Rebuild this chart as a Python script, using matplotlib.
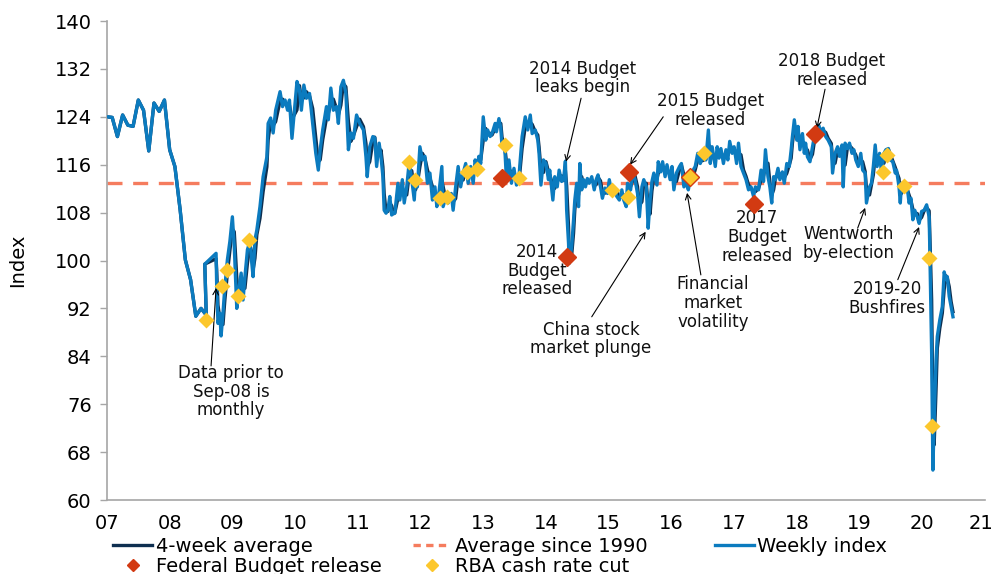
import matplotlib
matplotlib.use("Agg")
import matplotlib.pyplot as plt
import matplotlib.transforms as mtransforms
from matplotlib.lines import Line2D
import numpy as np
import pandas as pd

# monthly survey before Sep-08
monthly_dates = ["2007-01", "2007-02", "2007-03", "2007-04", "2007-05", "2007-06",
                 "2007-07", "2007-08", "2007-09", "2007-10", "2007-11", "2007-12",
                 "2008-01", "2008-02", "2008-03", "2008-04", "2008-05", "2008-06",
                 "2008-07", "2008-08"]
monthly_vals = [124.0, 123.9, 120.7, 124.3, 122.6, 122.4, 126.8, 125.1, 118.3, 126.3,
                124.9, 126.8, 118.5, 115.7, 108.5, 100.1, 96.8, 90.7, 92.0, 90.9]

# weekly index (decimal year, index)
weekly_t = [
    2008.56, 2008.74, 2008.75, 2008.77, 2008.80, 2008.82, 2008.85, 2008.88, 2008.92, 2008.96,
    2009.00, 2009.03, 2009.07, 2009.10, 2009.14, 2009.17, 2009.20, 2009.24, 2009.28, 2009.31,
    2009.33, 2009.36, 2009.39, 2009.44, 2009.49, 2009.55, 2009.57, 2009.61, 2009.65, 2009.69,
    2009.76, 2009.80, 2009.84, 2009.88, 2009.91, 2009.95, 2010.03, 2010.07, 2010.10, 2010.14,
    2010.18, 2010.23, 2010.28, 2010.33, 2010.37, 2010.40, 2010.44, 2010.50, 2010.53, 2010.57,
    2010.61, 2010.66, 2010.69, 2010.73, 2010.77, 2010.81, 2010.85, 2010.89, 2010.93, 2010.98,
    2011.03, 2011.09, 2011.13, 2011.15, 2011.19, 2011.24, 2011.27, 2011.30, 2011.34, 2011.37,
    2011.40, 2011.42, 2011.45, 2011.48, 2011.51, 2011.54, 2011.57, 2011.59, 2011.64, 2011.67,
    2011.71, 2011.74, 2011.78, 2011.82, 2011.86, 2011.90, 2011.92, 2011.95, 2011.99, 2012.03,
    2012.07, 2012.11, 2012.15, 2012.19, 2012.23, 2012.26, 2012.29, 2012.34, 2012.36, 2012.41,
    2012.44, 2012.49, 2012.52, 2012.56, 2012.60, 2012.64, 2012.68, 2012.72, 2012.76, 2012.80,
    2012.84, 2012.87, 2012.90, 2012.93, 2012.96, 2013.00, 2013.04, 2013.07, 2013.11, 2013.14,
    2013.19, 2013.21, 2013.25, 2013.28, 2013.30, 2013.34, 2013.37, 2013.41, 2013.45, 2013.49,
    2013.53, 2013.57, 2013.59, 2013.62, 2013.67, 2013.71, 2013.75, 2013.78, 2013.83, 2013.87,
    2013.89, 2013.92, 2013.96, 2014.00, 2014.04, 2014.06, 2014.11, 2014.14, 2014.18, 2014.21,
    2014.25, 2014.28, 2014.31, 2014.33, 2014.36, 2014.37, 2014.41, 2014.44, 2014.46, 2014.49,
    2014.52, 2014.54, 2014.57, 2014.60, 2014.63, 2014.66, 2014.69, 2014.73, 2014.77, 2014.80,
    2014.83, 2014.87, 2014.90, 2014.94, 2014.98, 2015.01, 2015.05, 2015.08, 2015.13, 2015.17,
    2015.21, 2015.24, 2015.28, 2015.30, 2015.35, 2015.38, 2015.42, 2015.46, 2015.49, 2015.53,
    2015.56, 2015.60, 2015.63, 2015.66, 2015.69, 2015.72, 2015.77, 2015.79, 2015.83, 2015.86,
    2015.90, 2015.93, 2015.98, 2016.01, 2016.04, 2016.08, 2016.13, 2016.16, 2016.20, 2016.24,
    2016.27, 2016.32, 2016.38, 2016.42, 2016.46, 2016.49, 2016.55, 2016.59, 2016.62, 2016.65,
    2016.70, 2016.73, 2016.76, 2016.79, 2016.83, 2016.87, 2016.90, 2016.93, 2016.97, 2017.00,
    2017.04, 2017.07, 2017.11, 2017.15, 2017.19, 2017.23, 2017.27, 2017.31, 2017.34, 2017.39,
    2017.43, 2017.47, 2017.50, 2017.54, 2017.57, 2017.60, 2017.63, 2017.66, 2017.70, 2017.73,
    2017.77, 2017.80, 2017.84, 2017.88, 2017.91, 2017.93, 2017.96, 2018.00, 2018.02, 2018.05,
    2018.09, 2018.12, 2018.14, 2018.17, 2018.21, 2018.25, 2018.28, 2018.32, 2018.35, 2018.39,
    2018.42, 2018.46, 2018.50, 2018.55, 2018.57, 2018.61, 2018.65, 2018.68, 2018.72, 2018.74,
    2018.77, 2018.81, 2018.84, 2018.88, 2018.91, 2018.94, 2018.98, 2019.02, 2019.05, 2019.09,
    2019.11, 2019.16, 2019.19, 2019.22, 2019.25, 2019.28, 2019.32, 2019.35, 2019.39, 2019.42,
    2019.46, 2019.49, 2019.53, 2019.57, 2019.59, 2019.63, 2019.65, 2019.67, 2019.72, 2019.76,
    2019.79, 2019.82, 2019.85, 2019.88, 2019.92, 2019.95, 2019.99, 2020.03, 2020.07, 2020.11,
    2020.12, 2020.15, 2020.17, 2020.19, 2020.22, 2020.24, 2020.28, 2020.32, 2020.35, 2020.38,
    2020.40, 2020.43, 2020.46, 2020.49]
weekly_v = [
    99.4, 101.2, 95.6, 89.5, 91.2, 87.4, 91.2, 95.6, 100.1, 103.2,
    107.3, 102.3, 92.0, 95.1, 97.9, 93.4, 97.3, 101.8, 103.2, 99.5,
    97.3, 103.5, 105.1, 109.0, 114.0, 117.3, 122.9, 123.8, 121.3, 125.1,
    128.2, 125.7, 126.8, 125.1, 126.8, 120.4, 129.9, 128.5, 125.1, 129.3,
    127.1, 127.9, 122.9, 117.9, 115.1, 118.5, 121.8, 125.7, 123.5, 128.8,
    125.1, 125.7, 122.9, 129.0, 130.1, 127.9, 118.5, 121.3, 120.4, 124.3,
    122.9, 121.8, 117.3, 114.0, 119.0, 120.7, 120.5, 115.7, 119.6, 117.3,
    114.0, 108.4, 107.9, 108.5, 110.7, 107.6, 108.0, 107.9, 112.9, 110.1,
    113.5, 109.6, 112.3, 116.5, 113.5, 110.1, 113.5, 112.3, 119.0, 116.8,
    117.4, 112.9, 114.6, 110.1, 112.3, 109.0, 111.0, 115.7, 109.0, 110.8,
    109.6, 111.2, 108.4, 112.3, 115.7, 112.3, 114.6, 116.2, 112.9, 115.7,
    112.9, 116.8, 115.5, 117.4, 116.2, 124.0, 120.1, 121.8, 120.7, 121.2,
    122.9, 121.5, 123.7, 122.1, 119.0, 119.5, 113.5, 116.8, 112.9, 115.4,
    112.6, 114.0, 116.8, 120.7, 124.0, 121.8, 124.3, 121.2, 121.8, 120.1,
    117.9, 112.6, 116.8, 116.2, 113.5, 115.1, 110.1, 114.0, 112.3, 115.1,
    113.2, 113.5, 116.6, 108.4, 102.9, 99.5, 102.3, 106.8, 110.1, 112.9,
    109.0, 116.2, 111.8, 113.5, 112.3, 113.7, 112.9, 114.0, 111.8, 113.5,
    114.3, 112.3, 110.4, 112.1, 111.2, 113.5, 111.2, 112.3, 110.7, 110.1,
    111.8, 110.1, 109.0, 112.9, 111.8, 114.8, 113.5, 111.2, 107.3, 112.3,
    113.5, 112.3, 105.4, 110.1, 113.2, 114.6, 112.6, 116.5, 114.8, 116.5,
    114.0, 116.0, 113.5, 115.7, 111.8, 114.6, 115.7, 116.2, 112.3, 112.9,
    111.8, 114.6, 115.7, 117.9, 116.2, 117.1, 116.8, 121.8, 116.2, 119.0,
    115.7, 119.0, 117.1, 118.7, 116.2, 118.5, 116.8, 119.9, 117.9, 119.0,
    116.2, 119.6, 115.7, 114.6, 113.5, 111.8, 112.3, 110.7, 112.3, 111.8,
    115.1, 113.2, 118.5, 114.0, 112.3, 109.6, 114.0, 113.5, 115.4, 113.5,
    114.8, 112.9, 116.2, 115.7, 118.5, 120.7, 123.5, 120.1, 122.4, 118.5,
    121.2, 117.9, 119.6, 117.3, 116.5, 119.0, 120.7, 120.1, 122.6, 121.2,
    122.1, 120.7, 120.1, 119.0, 114.6, 117.9, 119.0, 117.4, 119.3, 112.3,
    119.6, 118.7, 119.6, 117.9, 118.5, 116.8, 115.7, 117.9, 115.1, 114.6,
    109.6, 112.3, 112.9, 115.7, 119.3, 115.7, 117.9, 114.6, 117.9, 118.5,
    118.7, 116.8, 116.5, 114.6, 115.1, 112.3, 109.6, 112.9, 111.5, 112.3,
    109.6, 110.4, 106.8, 108.4, 107.3, 106.2, 108.2, 108.4, 109.3, 107.3,
    102.3, 84.5, 65.0, 73.4, 83.4, 87.3, 90.1, 92.3, 98.1, 96.8,
    97.3, 94.0, 92.3, 90.6]

avg_since_1990 = 112.9

budget_t = [2013.30, 2014.33, 2015.33, 2016.29, 2017.31, 2018.29]
budget_v = [113.7, 100.6, 114.7, 113.9, 109.4, 121.1]

cut_t = [2008.58, 2008.83, 2008.92, 2009.09, 2009.26, 2011.82, 2011.91, 2012.31, 2012.42,
         2012.74, 2012.90, 2013.34, 2013.57, 2015.06, 2015.31, 2016.29, 2016.52, 2019.37,
         2019.44, 2019.71, 2020.11, 2020.16]
cut_v = [90.1, 95.8, 98.4, 94.1, 103.4, 116.5, 113.5, 110.5, 110.6,
         114.8, 115.2, 119.3, 113.8, 111.8, 110.6, 113.9, 118.0, 114.8,
         117.6, 112.4, 100.4, 72.3]

BLUE = "#0b7bbf"
NAVY = "#0e2f50"
CORAL = "#f57c5e"
RED = "#d23a12"
YELLOW = "#fcc72c"
GREY = "#a6a6a6"

m = pd.PeriodIndex(monthly_dates, freq="M")
monthly_t = np.array(m.year + (m.month - 1) / 12.0)

all_t = np.concatenate([monthly_t, weekly_t])
all_v = np.concatenate([monthly_vals, weekly_v])
avg4 = pd.Series(weekly_v).rolling(2, min_periods=1).mean().to_numpy()
avg4_v = np.concatenate([monthly_vals, avg4])

plt.rcParams["font.family"] = "DejaVu Sans"

fig = plt.figure(figsize=(9.94, 5.74), dpi=100)
ax = fig.add_axes([0.1076, 0.1289, 0.8833, 0.8345])

ax.axhline(avg_since_1990, color=CORAL, lw=2.4, dashes=(4.5, 3.2), zorder=1)
ax.plot(all_t, avg4_v, color=NAVY, lw=2.4, zorder=2)
ax.plot(all_t, all_v, color=BLUE, lw=2.4, zorder=3)
ax.plot(budget_t, budget_v, "D", color=RED, ms=9, mec=RED, zorder=5)
ax.plot(cut_t, cut_v, "D", color=YELLOW, ms=8, mec="none", zorder=6)

ax.set_xlim(2007, 2021)
ax.set_ylim(60, 140)
ax.set_yticks(np.arange(60, 141, 8))
ax.set_xticks(range(2007, 2022))
ax.set_xticklabels(["%02d" % (y % 100) for y in range(2007, 2022)])
ax.set_xticks(range(2007, 2022, 2), minor=True)
ax.tick_params(axis="x", which="major", length=0, pad=10, labelsize=14)
ax.tick_params(axis="x", which="minor", length=5, color=GREY, width=1)
ax.tick_params(axis="y", length=5, color=GREY, width=1, labelsize=14, pad=6)
# last label sits tight against the figure edge
last = ax.get_xticklabels()[-1]
last.set_transform(last.get_transform() +
                   mtransforms.ScaledTranslation(-4 / 100, 0, fig.dpi_scale_trans))
for s in ["top", "right"]:
    ax.spines[s].set_visible(False)
for s in ["left", "bottom"]:
    ax.spines[s].set_color(GREY)
    ax.spines[s].set_linewidth(1.2)
ax.set_ylabel("Index", fontsize=14, labelpad=20)

# annotations
tkw = dict(fontsize=12, ha="center", va="center", linespacing=1.05, color="#111111")
akw = dict(arrowstyle="->", color="black", lw=0.8, shrinkA=0, shrinkB=0)

ax.text(2008.98, 78.1, "Data prior to\nSep-08 is\nmonthly", **tkw)
ax.annotate("", xy=(2008.74, 95.4), xytext=(2008.66, 82.4), arrowprops=akw)

ax.text(2014.59, 130.5, "2014 Budget\nleaks begin", **tkw)
ax.annotate("", xy=(2014.32, 116.5), xytext=(2014.56, 127.1), arrowprops=akw)

ax.text(2016.62, 125.1, "2015 Budget\nreleased", **tkw)
ax.annotate("", xy=(2015.34, 116.0), xytext=(2015.87, 124.0), arrowprops=akw)

ax.text(2018.56, 131.7, "2018 Budget\nreleased", **tkw)
ax.annotate("", xy=(2018.32, 122.1), xytext=(2018.45, 128.6), arrowprops=akw)

ax.text(2013.86, 98.3, "2014\nBudget\nreleased", **tkw)

ax.text(2014.72, 86.9, "China stock\nmarket plunge", **tkw)
ax.annotate("", xy=(2015.59, 104.8), xytext=(2014.73, 90.6), arrowprops=akw)

ax.text(2016.66, 92.9, "Financial\nmarket\nvolatility", **tkw)
ax.annotate("", xy=(2016.25, 111.3), xytext=(2016.47, 97.6), arrowprops=akw)

ax.text(2017.37, 103.9, "2017\nBudget\nreleased", **tkw)

ax.text(2018.83, 102.8, "Wentworth\nby-election", **tkw)
ax.annotate("", xy=(2019.09, 108.8), xytext=(2018.97, 105.4), arrowprops=akw)

ax.text(2019.44, 93.6, "2019-20\nBushfires", **tkw)
ax.annotate("", xy=(2019.95, 105.6), xytext=(2019.61, 96.8), arrowprops=akw)

# legend, three columns placed separately
h_avg4 = Line2D([], [], color=NAVY, lw=2.4)
h_1990 = Line2D([], [], color=CORAL, lw=2.4, dashes=(2.2, 1.6))
h_week = Line2D([], [], color=BLUE, lw=2.4)
h_bud = Line2D([], [], ls="none", marker="D", color=RED, ms=6)
h_cut = Line2D([], [], ls="none", marker="D", color=YELLOW, ms=6)

lkw = dict(loc="upper left", frameon=False, fontsize=14, borderpad=0, borderaxespad=0,
           handlelength=2.0, handletextpad=0.2, labelspacing=0.05,
           bbox_transform=fig.transFigure)
leg1 = ax.legend([h_avg4, h_bud], ["4-week average", "Federal Budget release"],
                 bbox_to_anchor=(0.114, 0.065), **lkw)
ax.add_artist(leg1)
leg2 = ax.legend([h_1990, h_cut], ["Average since 1990", "RBA cash rate cut"],
                 bbox_to_anchor=(0.415, 0.065), **lkw)
ax.add_artist(leg2)
ax.legend([h_week], ["Weekly index"], bbox_to_anchor=(0.719, 0.065), **lkw)

fig.savefig("out.png", dpi=100)
